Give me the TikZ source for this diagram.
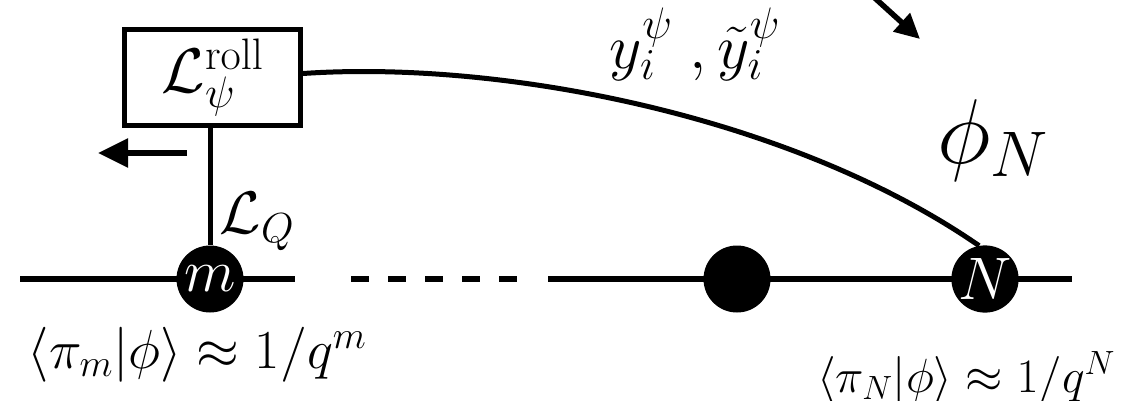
\RequirePackage{fix-cm}
\documentclass[tikz,border=0pt]{standalone}
\usepackage{amsmath}
\usetikzlibrary{arrows.meta}
\begin{document}
\begin{tikzpicture}[x=1pt,y=-1pt,
  lbl/.style={font=\fontsize{55}{66}\selectfont, inner sep=0pt},
  bigl/.style={font=\fontsize{92}{110}\selectfont, inner sep=0pt},
  wire/.style={line width=6pt},
  bead/.style={circle, fill=black, minimum size=67pt, inner sep=0pt, text=white, font=\fontsize{60}{72}\selectfont},
  boxst/.style={draw, line width=5pt, minimum width=176pt, minimum height=96pt, inner sep=0pt, font=\fontsize{63}{76}\selectfont}
]
\useasboundingbox (0,0) rectangle (1124,400);
% chain coordinates
\coordinate (L0) at (20,279);
\coordinate (L1) at (295,279);
\coordinate (D0) at (351,279);
\coordinate (D1) at (518,279);
\coordinate (R0) at (548,279);
\coordinate (R1) at (1072,279);
\draw[wire] (L0) -- (L1);
\draw[wire, dash pattern=on 18pt off 19pt] (D0) -- (D1);
\draw[wire] (R0) -- (R1);
% beads
\node[bead] (m) at (210,279) {$m$};
\node[bead] (mid) at (737,279) {};
\node[bead] (N) at (985,279) {$N$};
% box
\node[boxst] (box) at (212.5,77.5) {$\mathcal{L}^{\mathrm{roll}}_{\psi}$};
\draw[line width=5pt] (box.south -| m) -- (m);
% curve
\draw[line width=5pt] ([yshift=4pt]box.east) .. controls (500,60) and (790,115) .. (N.100);
% arrows
\coordinate (A0) at (187,153);
\coordinate (A1) at (98,153);
\draw[line width=5.5pt, -{Triangle[length=30pt,width=28pt]}] (A0) -- (A1);
\coordinate (B0) at (866,-10);
\coordinate (B1) at (920,39);
\draw[line width=5.5pt, -{Triangle[length=25pt,width=24pt]}] (B0) -- (B1);
% labels
\node[lbl, font=\fontsize{60}{72}\selectfont] (lq) at (257,222) {$\mathcal{L}_Q$};
\node[lbl, font=\fontsize{63}{76}\selectfont] (yl) at (695,44) {$y_i^{\psi}\;, \tilde{y}_i^{\psi}$};
\node[bigl] (phiN) at (993,140) {$\phi_N$};
\node[lbl, anchor=base] (pm) at (197,368) {$\langle \pi_m | \phi\rangle \approx 1/q^m$};
\node[lbl, anchor=base, font=\fontsize{48}{58}\selectfont] (pN) at (966,392) {$\langle \pi_N | \phi\rangle \approx 1/q^N$};
\end{tikzpicture}
\end{document}
